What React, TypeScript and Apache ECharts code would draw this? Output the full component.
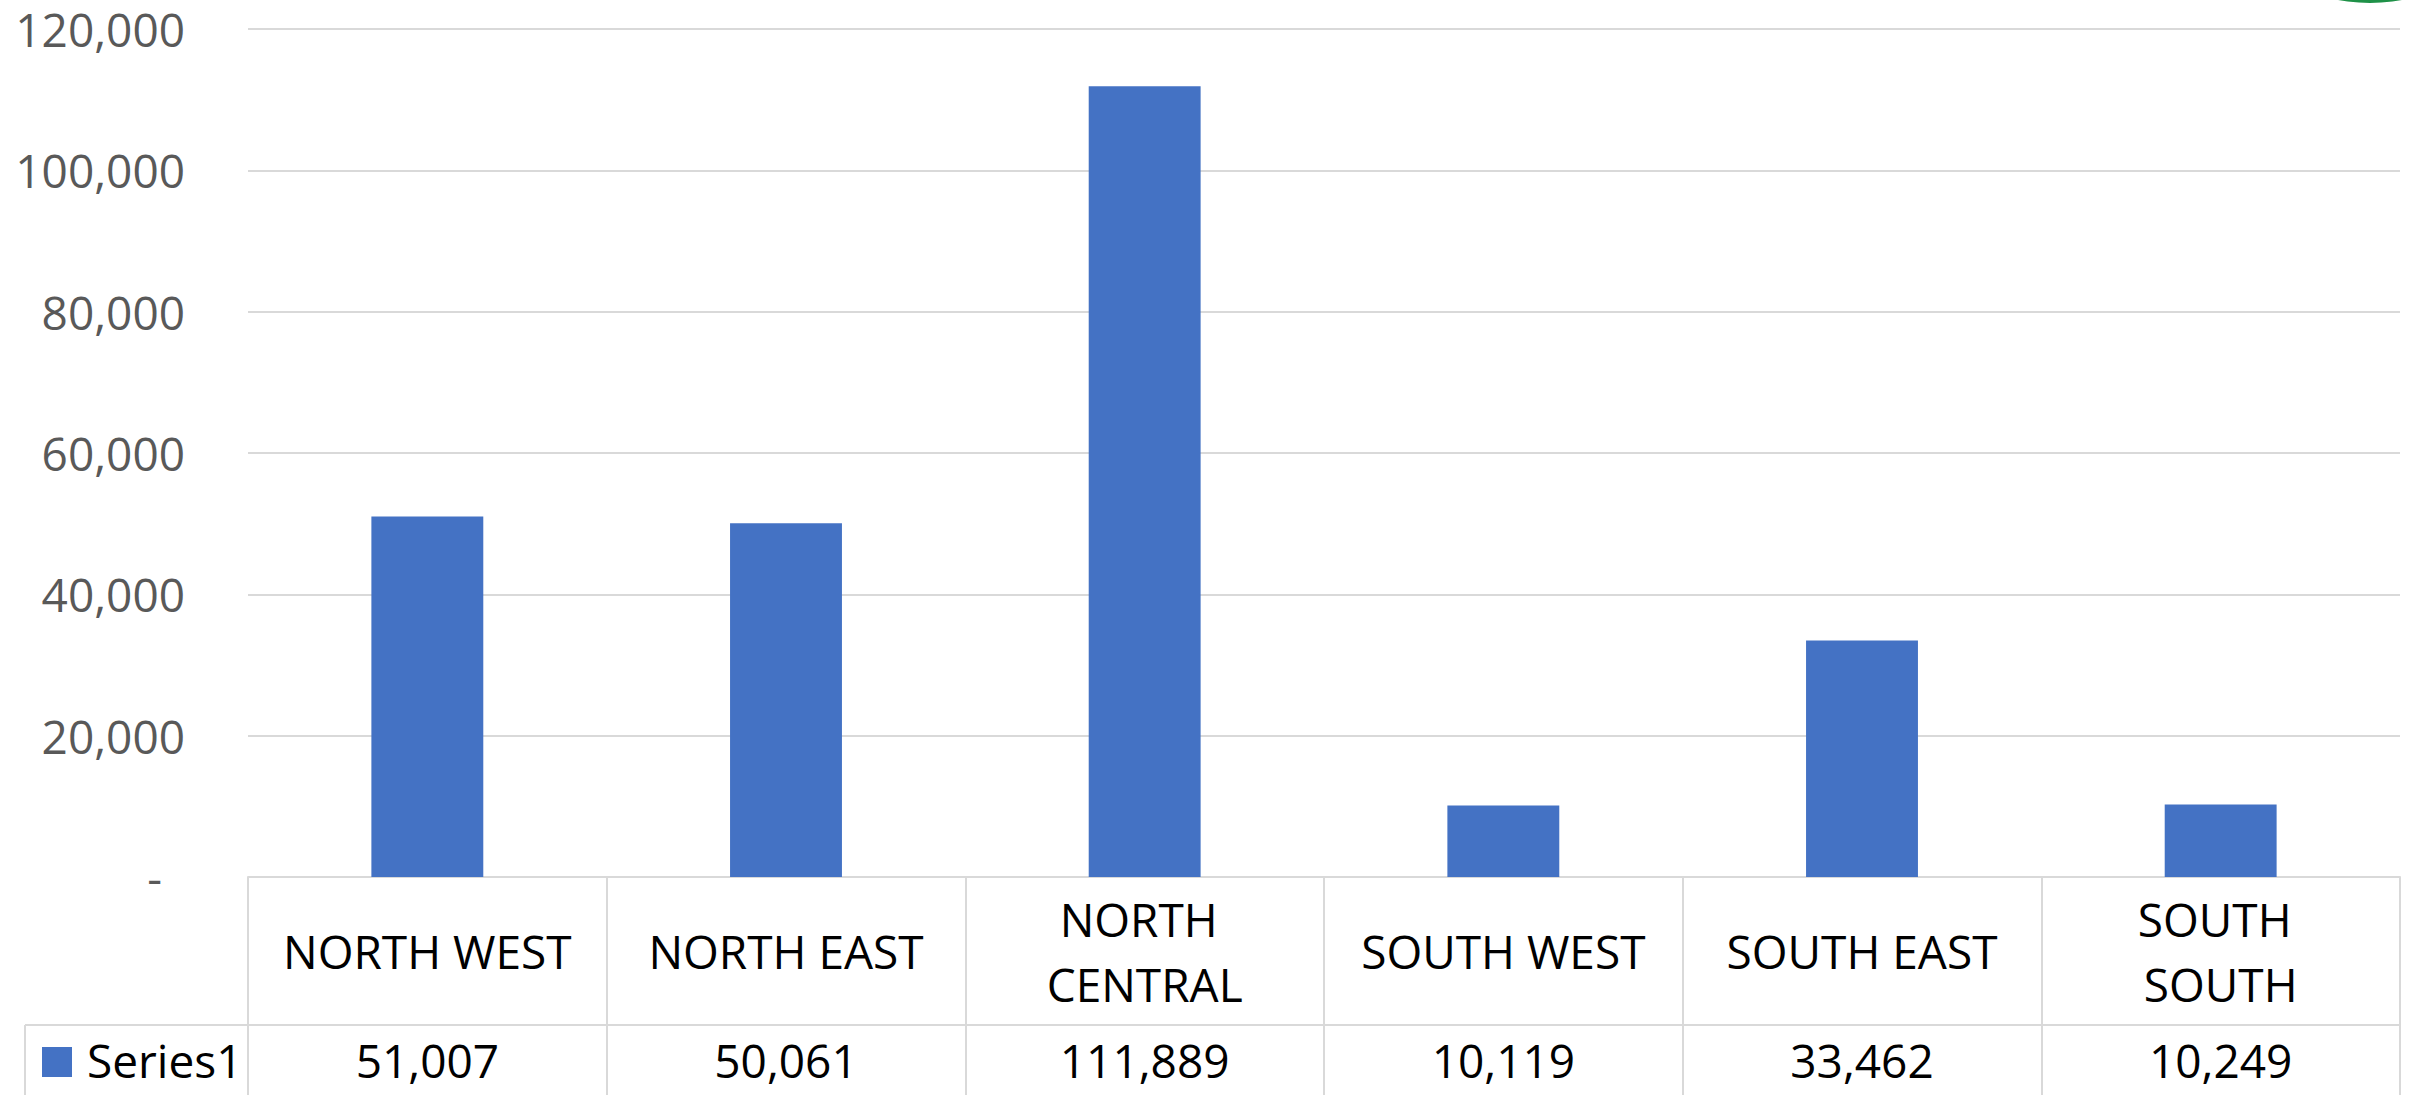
import React, { useEffect, useRef } from "react";
import * as echarts from "echarts";

const categories = ["NORTH WEST", "NORTH EAST", "NORTH CENTRAL", "SOUTH WEST", "SOUTH EAST", "SOUTH SOUTH"];
const values = [51007, 50061, 111889, 10119, 33462, 10249];
const seriesName = "Series1";
const yTicks = [0, 20000, 40000, 60000, 80000, 100000, 120000];

const FONT = "'Open Sans', 'Noto Sans', sans-serif";
const BLUE = "#4472c4";
const GRID = "#d9d9d9";

const fmt = (v: number) => v.toLocaleString("en-US");

export default function App() {
  const ref = useRef<HTMLDivElement>(null);
  useEffect(() => {
    document.body.style.margin = "0";
    const chart = echarts.init(ref.current!, null, { renderer: "svg" });
    const W = 2410;
    const H = 1095;
    const gridLeft = 248;
    const gridRight = 10;
    const gridTop = 29;
    const gridBottom = 218;
    const axisY = H - gridBottom;
    const row2Y = 1025;
    chart.setOption({
      animation: false,
      backgroundColor: "#ffffff",
      textStyle: { fontFamily: FONT },
      grid: { left: gridLeft, right: gridRight, top: gridTop, bottom: gridBottom, containLabel: false },
      xAxis: [
        {
          type: "category",
          data: categories,
          position: "bottom",
          axisLine: { show: true, lineStyle: { color: GRID, width: 2 } },
          axisTick: { show: true, interval: 0, length: H - axisY, lineStyle: { color: GRID, width: 2 } },
          axisLabel: {
            interval: 0,
            margin: 74,
            fontSize: 46,
            fontFamily: FONT,
            color: "#000000",
            width: 310,
            overflow: "break",
            lineHeight: 65,
            verticalAlign: "middle",
            align: "center",
          },
          splitLine: { show: false },
        },
        {
          type: "category",
          data: values.map(fmt),
          position: "bottom",
          offset: 0,
          axisLine: { show: false },
          axisTick: { show: false },
          axisLabel: {
            interval: 0,
            margin: 183,
            fontSize: 46,
            fontFamily: FONT,
            color: "#000000",
            lineHeight: 46,
            verticalAlign: "middle",
            align: "center",
          },
          splitLine: { show: false },
        },
      ],
      yAxis: {
        type: "value",
        min: yTicks[0],
        max: yTicks[yTicks.length - 1],
        interval: 20000,
        axisLine: { show: false },
        axisTick: { show: false },
        splitLine: { show: true, lineStyle: { color: GRID, width: 2 } },
        axisLabel: {
          margin: 63,
          fontSize: 46,
          lineHeight: 46,
          fontFamily: FONT,
          color: "#595959",
          formatter: (v: number) => (v === 0 ? "{z|-}" : fmt(v)),
          rich: {
            z: { fontSize: 46, lineHeight: 46, fontFamily: FONT, color: "#595959", padding: [0, 23, 0, 0] },
          },
        },
      },
      series: [
        {
          name: seriesName,
          type: "bar",
          xAxisIndex: 0,
          data: values,
          barWidth: "31.2%",
          itemStyle: { color: BLUE },
        },
      ],
      graphic: [
        {
          type: "circle",
          shape: { cx: 2370, cy: -169, r: 172 },
          style: { fill: "#1f9148" },
          silent: true,
        },
        {
          type: "line",
          shape: { x1: 25, y1: row2Y, x2: W - gridRight, y2: row2Y },
          style: { stroke: GRID, lineWidth: 2 },
          silent: true,
        },
        {
          type: "line",
          shape: { x1: 25, y1: row2Y, x2: 25, y2: H },
          style: { stroke: GRID, lineWidth: 2 },
          silent: true,
        },
        {
          type: "rect",
          shape: { x: 42, y: 1047, width: 30, height: 30 },
          style: { fill: BLUE },
          silent: true,
        },
        {
          type: "text",
          x: 87,
          y: 1060,
          style: {
            text: seriesName,
            fontSize: 46,
            lineHeight: 46,
            fontFamily: FONT,
            fill: "#000000",
            verticalAlign: "middle",
            align: "left",
          },
          silent: true,
        },
      ],
    });
    return () => chart.dispose();
  }, []);
  return <div ref={ref} style={{ width: 2410, height: 1095 }} />;
}
